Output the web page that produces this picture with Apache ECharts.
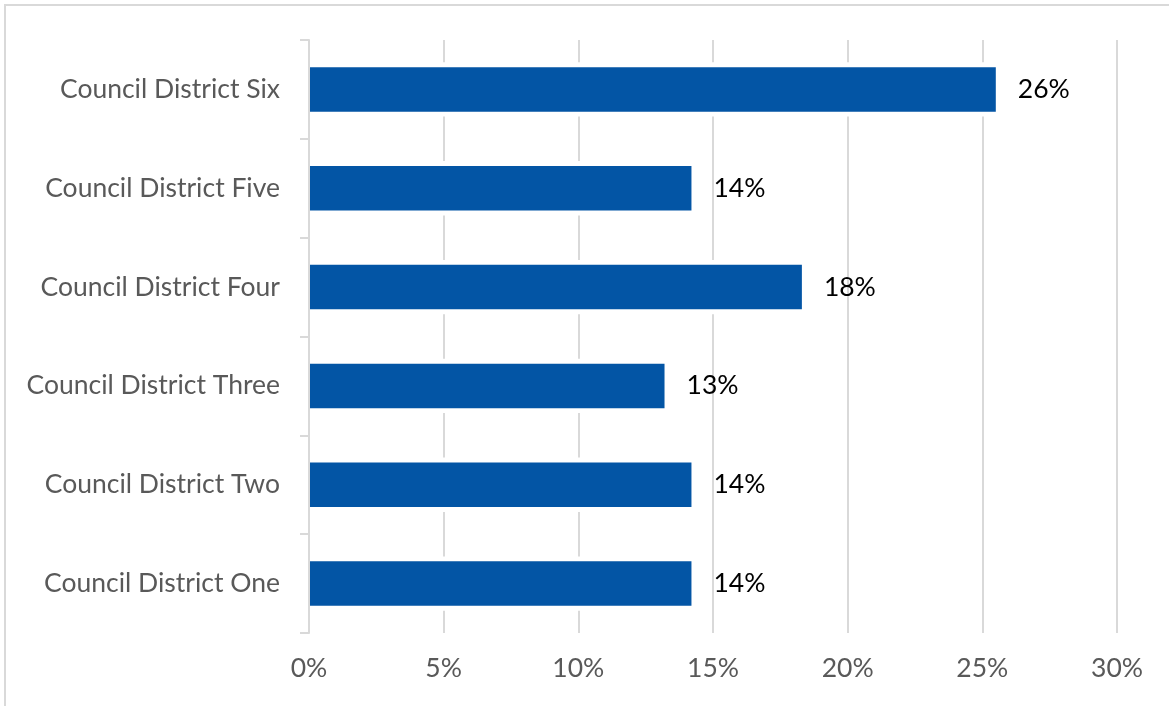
<!DOCTYPE html>
<html>
<head>
<meta charset="utf-8">
<title>Council District Share</title>
<script src="https://cdn.jsdelivr.net/npm/echarts@6/dist/echarts.min.js"></script>
<style>
  html, body { margin: 0; padding: 0; background: #fff; }
  #chart { width: 1169px; height: 706px; }
</style>
</head>
<body>
<div id="chart"></div>
<script>
// Districts, listed bottom to top as drawn on the category axis
const districts = [
  'Council District One',
  'Council District Two',
  'Council District Three',
  'Council District Four',
  'Council District Five',
  'Council District Six'
];
// Share of total for each district (percent)
const shares = [14.2, 14.2, 13.2, 18.3, 14.2, 25.5];
// Value axis ticks (percent)
const axisTicks = [0, 5, 10, 15, 20, 25, 30];

const FONT = 'Lato, "Open Sans", "Noto Sans", sans-serif';
const GRID_GRAY = '#d9d9d9';
const TEXT_GRAY = '#595959';
const BAR_BLUE = '#0355a5';

const chart = echarts.init(document.getElementById('chart'), null, { renderer: 'canvas' });

chart.setOption({
  animation: false,
  backgroundColor: '#ffffff',
  grid: { left: 309, right: 52, top: 40, bottom: 73, containLabel: false },
  graphic: [{
    type: 'rect',
    silent: true,
    shape: { x: 5, y: 5, width: 1400, height: 900 },
    style: { fill: 'none', stroke: GRID_GRAY, lineWidth: 2 }
  }],
  xAxis: {
    type: 'value',
    min: axisTicks[0],
    max: axisTicks[axisTicks.length - 1],
    interval: axisTicks[1] - axisTicks[0],
    axisLine: { show: false },
    axisTick: { show: false },
    splitLine: { lineStyle: { color: GRID_GRAY, width: 2 } },
    axisLabel: {
      formatter: v => v + '%',
      color: TEXT_GRAY,
      fontFamily: FONT,
      fontSize: 26.5,
      margin: 22
    }
  },
  yAxis: [{
    type: 'category',
    data: districts,
    z: 5,
    axisLine: { show: true, lineStyle: { color: GRID_GRAY, width: 2 } },
    axisTick: { show: true, length: 9, lineStyle: { color: GRID_GRAY, width: 2 } },
    splitLine: { show: false },
    axisLabel: {
      color: TEXT_GRAY,
      fontFamily: FONT,
      fontSize: 26.5,
      margin: 29
    }
  }, {
    // hidden twin axis so the white halo bars sit centred on each row
    type: 'category',
    data: districts,
    show: false,
    position: 'left'
  }],
  series: [{
    // white halo that breaks the gridlines just above and below each bar
    type: 'bar',
    yAxisIndex: 1,
    data: shares,
    barWidth: '55%',
    silent: true,
    itemStyle: { color: '#ffffff' }
  }, {
    type: 'bar',
    yAxisIndex: 0,
    data: shares,
    barWidth: '45%',
    itemStyle: { color: BAR_BLUE },
    label: {
      show: true,
      position: 'right',
      distance: 22,
      formatter: p => Math.round(p.value) + '%',
      color: '#000000',
      fontFamily: FONT,
      fontSize: 26.5
    }
  }]
});
</script>
</body>
</html>
